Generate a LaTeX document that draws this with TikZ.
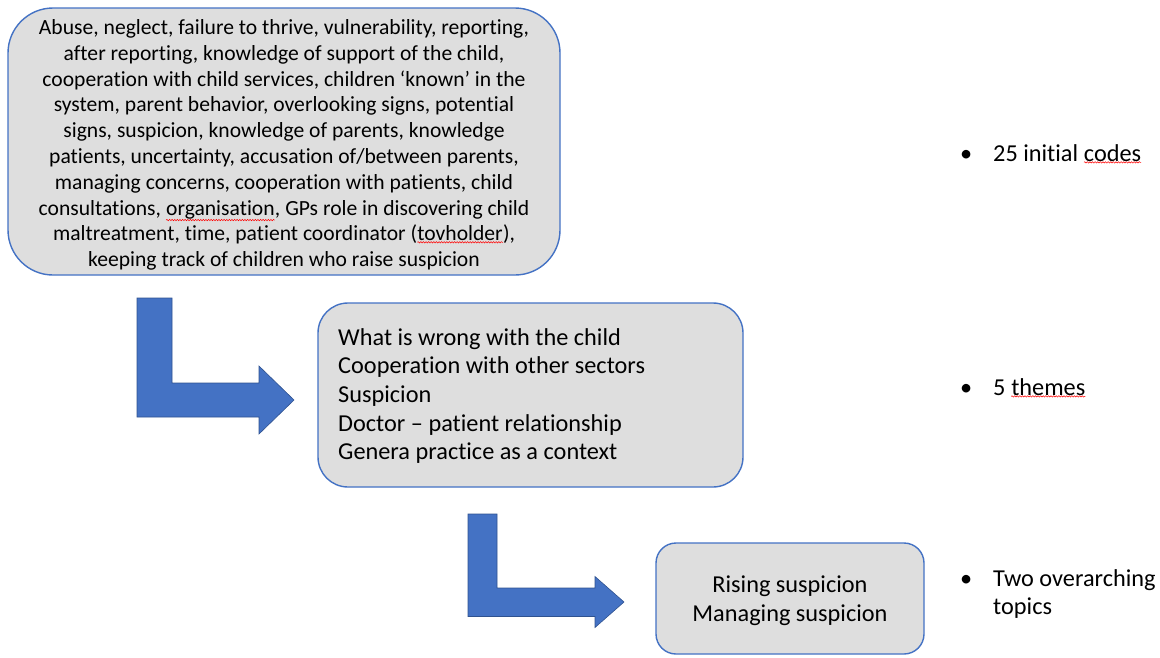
\documentclass[tikz,border=0pt]{standalone}
\usepackage{fontspec}
\setmainfont{Carlito}[Ligatures=CommonOff]
\usetikzlibrary{decorations.pathmorphing}
\definecolor{boxfill}{RGB}{222,222,222}
\definecolor{boxline}{RGB}{68,114,196}
\definecolor{arrowfill}{RGB}{68,114,196}
\definecolor{arrowline}{RGB}{47,82,143}
\newcommand\spellmark[1]{\tikz[baseline=(w.base)]{\node[inner sep=0pt,outer sep=0pt](w){#1};\draw[red,line width=0.5pt,decorate,decoration={snake,amplitude=0.7pt,segment length=2.6pt}] ([yshift=-1.2pt]w.south west)--([yshift=-1.2pt]w.south east);}}
\tikzset{
  box/.style={draw=boxline,line width=1.4pt,fill=boxfill,inner sep=0pt},
  bentarrow/.style={fill=arrowfill,draw=arrowline,line width=0.6pt},
  bullettext/.style={anchor=base west,inner sep=0pt,font=\fontsize{24.3}{28}\selectfont,align=left},
}
\begin{document}
\begin{tikzpicture}[x=1pt,y=-1pt]
\useasboundingbox (0,0) rectangle (1160,657);
% boxes
\node[box,minimum width=552pt,minimum height=267pt,rounded corners=45pt] (codes) at (284,141.5) {};
\node[align=center,inner sep=0pt,font=\fontsize{21.6}{25.8}\selectfont] (codestext) at (284,145) {Abuse, neglect, failure to thrive, vulnerability, reporting,\\after reporting, knowledge of support of the child,\\cooperation with child services, children ‘known’ in the\\system, parent behavior, overlooking signs, potential\\signs, suspicion, knowledge of parents, knowledge\\patients, uncertainty, accusation of/between parents,\\managing concerns, cooperation with patients, child\\consultations, \spellmark{organisation}, GPs role in discovering child\\maltreatment, time, patient coordinator (\spellmark{tovholder}),\\keeping track of children who raise suspicion};
\node[box,minimum width=425pt,minimum height=184pt,rounded corners=30pt] (themes) at (530.5,395) {};
\node[anchor=west,align=left,inner sep=0pt,font=\fontsize{24.3}{28.7}\selectfont] (themestext) at (338,396) {What is wrong with the child\\Cooperation with other sectors\\Suspicion\\Doctor – patient relationship\\Genera practice as a context};
\node[box,minimum width=268pt,minimum height=111pt,rounded corners=20pt] (topics) at (790,598.5) {};
\node[align=center,inner sep=0pt,font=\fontsize{24.3}{29}\selectfont] (topicstext) at (790,601) {Rising suspicion\\Managing suspicion};
% bent arrows
\coordinate (a1) at (137,298);
\draw[bentarrow] (a1) -- ++(35,0) -- ++(0,85) -- ++(87,0) -- ++(0,-17) -- ++(35,34) -- ++(-35,34) -- ++(0,-17) -- ++(-122,0) -- cycle;
\coordinate (a2) at (468,514);
\draw[bentarrow] (a2) -- ++(29,0) -- ++(0,74) -- ++(98,0) -- ++(0,-11.5) -- ++(29,25.5) -- ++(-29,25.5) -- ++(0,-11) -- ++(-127,0) -- cycle;
% bullets
\node[bullettext] (b1dot) at (960,161) {•};
\node[bullettext] (b1) at (993,161) {25 initial \spellmark{codes}};
\node[bullettext] (b2dot) at (960,395) {•};
\node[bullettext] (b2) at (993,395) {5 \spellmark{themes}};
\node[bullettext] (b3dot) at (960,586) {•};
\node[bullettext,anchor=north west] (b3) at (993,569) {Two overarching\\topics};
\end{tikzpicture}
\end{document}
